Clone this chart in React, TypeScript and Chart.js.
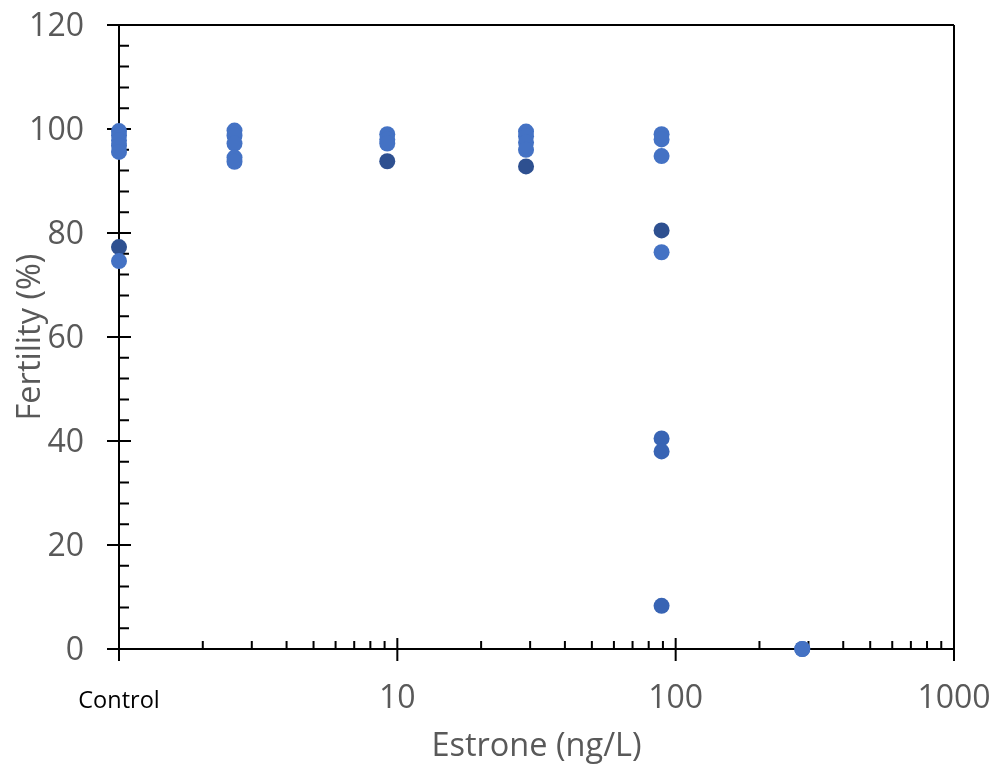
import React, { useEffect, useRef } from "react";
import { Chart, registerables } from "chart.js";

Chart.register(...registerables);

// Concentrations (ng/L); "Control" is plotted at 1 on the log axis
const controlX = 1;
const conc = [2.6, 9.2, 29, 89, 285];

// Light blue series
const lightX = [controlX, controlX, controlX, controlX, controlX, controlX, 2.6, 2.6, 2.6, 2.6, 2.6, 9.2, 9.2, 9.2, 29, 29, 29, 29, 89, 89, 89, 89, 285];
const lightY = [99.6, 98.8, 97.8, 96.8, 95.6, 74.6, 99.7, 98.7, 97.2, 94.5, 93.7, 99.0, 98.0, 97.2, 99.5, 98.6, 97.4, 96.0, 99.0, 98.0, 94.8, 76.3, 0];

// Medium blue series
const medX = [89, 89, 89, 285];
const medY = [40.5, 38.0, 8.3, 0];

// Dark blue series
const darkX = [controlX, 9.2, 29, 89];
const darkY = [77.3, 93.8, 92.8, 80.5];

const yTicks = [0, 20, 40, 60, 80, 100, 120];
const xMajor = [1, 10, 100, 1000];
const xLabels = ["Control", "10", "100", "1000"];
const xTitle = "Estrone (ng/L)";
const yTitle = "Fertility (%)";

const FONT = "'Open Sans', 'Noto Sans', sans-serif";
const GRAY = "#595959";

const toPts = (xs: number[], ys: number[]) => xs.map((x, i) => ({ x, y: ys[i] }));

const axesPlugin = {
  id: "customAxes",
  beforeDatasetsDraw(chart: any) {
    const ctx = chart.ctx as CanvasRenderingContext2D;
    const xs = chart.scales.x;
    const ys = chart.scales.y;
    const { left, right, top, bottom } = chart.chartArea;
    ctx.save();
    ctx.strokeStyle = "#000";
    ctx.lineWidth = 2;
    ctx.beginPath();
    // frame
    ctx.moveTo(left, top);
    ctx.lineTo(left, bottom);
    ctx.moveTo(left - 12, top);
    ctx.lineTo(right, top);
    ctx.moveTo(right, top);
    ctx.lineTo(right, bottom + 12);
    ctx.moveTo(left, bottom);
    ctx.lineTo(right, bottom);
    // y ticks
    for (let v = 0; v <= 120; v += 4) {
      const py = ys.getPixelForValue(v);
      if (v % 20 === 0) {
        ctx.moveTo(left - 12, py);
        ctx.lineTo(left + 12, py);
      } else {
        ctx.moveTo(left, py);
        ctx.lineTo(left + 10, py);
      }
    }
    // x ticks
    for (let d = 1; d < 1000; d *= 10) {
      for (let m = 1; m <= 10; m++) {
        const v = d * m;
        const px = xs.getPixelForValue(v);
        if (m === 1 || m === 10) {
          ctx.moveTo(px, bottom - 11);
          ctx.lineTo(px, bottom + 12);
        } else {
          ctx.moveTo(px, bottom - 8);
          ctx.lineTo(px, bottom);
        }
      }
    }
    ctx.stroke();

    // y labels
    ctx.fillStyle = GRAY;
    ctx.font = `32px ${FONT}`;
    ctx.textAlign = "right";
    ctx.textBaseline = "alphabetic";
    yTicks.forEach((v) => {
      ctx.fillText(String(v), 84, ys.getPixelForValue(v) + 11);
    });
    // x labels
    ctx.textAlign = "center";
    xMajor.forEach((v, i) => {
      const px = xs.getPixelForValue(v);
      if (i === 0) {
        ctx.fillStyle = "#000";
        ctx.font = `23.5px ${FONT}`;
        ctx.fillText(xLabels[i], px, 708);
      } else {
        ctx.fillStyle = GRAY;
        ctx.font = `32px ${FONT}`;
        ctx.fillText(xLabels[i], px, 708);
      }
    });
    // titles
    ctx.fillStyle = GRAY;
    ctx.font = `32.5px ${FONT}`;
    ctx.fillText(xTitle, (left + right) / 2, 756);
    ctx.save();
    ctx.translate(40, (top + bottom) / 2);
    ctx.rotate(-Math.PI / 2);
    ctx.textAlign = "center";
    ctx.fillText(yTitle, 0, 0);
    ctx.restore();
    ctx.restore();
  },
};

export default function App() {
  const ref = useRef<HTMLCanvasElement | null>(null);
  useEffect(() => {
    if (!ref.current) return;
    const mk = (label: string, xs: number[], ys: number[], color: string) => ({
      label,
      data: toPts(xs, ys),
      backgroundColor: color,
      borderColor: color,
      borderWidth: 0,
      pointRadius: 8,
      pointHoverRadius: 8,
      clip: false as any,
    });
    const chart = new Chart(ref.current, {
      type: "scatter",
      data: {
        datasets: [
          mk("A", lightX, lightY, "#4472C4"),
          mk("B", medX, medY, "#3864B4"),
          mk("C", darkX, darkY, "#2E5090"),
        ],
      },
      options: {
        animation: false,
        responsive: false,
        maintainAspectRatio: false,
        layout: { padding: { left: 119, right: 44, top: 25, bottom: 122 } },
        plugins: { legend: { display: false }, tooltip: { enabled: false } },
        scales: {
          x: { type: "logarithmic", min: 1, max: 1000, display: false },
          y: { type: "linear", min: 0, max: 120, display: false },
        },
      },
      plugins: [axesPlugin],
    });
    return () => chart.destroy();
  }, []);
  return (
    <div style={{ position: "fixed", left: 0, top: 0, width: 998, height: 771, background: "#fff" }}>
      <canvas ref={ref} width={998} height={771} style={{ width: 998, height: 771 }} />
    </div>
  );
}
